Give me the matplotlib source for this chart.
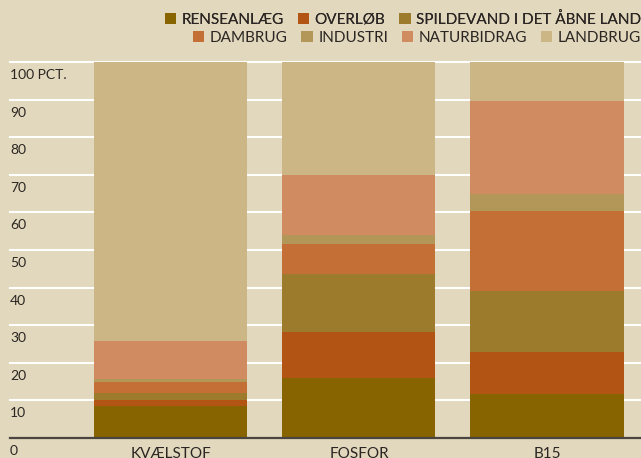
import matplotlib
matplotlib.use("Agg")
import matplotlib.pyplot as plt
import matplotlib.transforms as mtransforms

categories = ["KVÆLSTOF", "FOSFOR", "B15"]
series_names = ["RENSEANLÆG", "OVERLØB", "SPILDEVAND I DET ÅBNE LAND",
                "DAMBRUG", "INDUSTRI", "NATURBIDRAG", "LANDBRUG"]
renseanlaeg = [8.6, 16.0, 11.7]
overloeb = [1.5, 12.2, 11.2]
spildevand = [1.8, 15.4, 16.2]
dambrug = [3.0, 8.0, 21.3]
industri = [0.7, 2.3, 4.5]
naturbidrag = [10.2, 16.0, 24.7]
landbrug = [74.2, 30.1, 10.4]
ytick_values = [0, 10, 20, 30, 40, 50, 60, 70, 80, 90, 100]
ytick_labels = ["0", "10", "20", "30", "40", "50", "60", "70", "80", "90", "100 PCT."]

series = [renseanlaeg, overloeb, spildevand, dambrug, industri, naturbidrag, landbrug]
colors = ["#876400", "#B25413", "#9C7C2C", "#C46F36", "#B39758", "#D08B60", "#CDB686"]

BG = "#E2D8BD"
TXT = "#2B2623"
plt.rcParams['font.family'] = ['Lato', 'DejaVu Sans']

W, H = 641, 458
fig = plt.figure(figsize=(W / 100, H / 100), dpi=100, facecolor=BG)
ax = fig.add_axes([10 / W, (H - 438) / H, 1 - 10 / W, (438 - 62) / H], facecolor=BG)
ax.set_ylim(0, 100)
ax.set_xlim(-0.856, 2.5)

x = list(range(len(categories)))
bottom = [0] * len(categories)
handles = []
for name, vals, c in zip(series_names, series, colors):
    b = ax.bar(x, vals, bottom=bottom, width=0.814, color=c, label=name, zorder=2, linewidth=0)
    handles.append(b)
    bottom = [bb + v for bb, v in zip(bottom, vals)]

for v in ytick_values[1:]:
    ax.axhline(v, color="white", lw=1.5, zorder=1, clip_on=False)

for s in ["top", "right", "left"]:
    ax.spines[s].set_visible(False)
ax.spines["bottom"].set_color("#4a4540")
ax.spines["bottom"].set_linewidth(1.6)
ax.spines["bottom"].set_zorder(3)

ax.set_yticks([])
ax.set_xticks(x)
ax.set_xticklabels(categories, fontsize=11, color=TXT)
ax.tick_params(axis="x", length=0, pad=6.5)

trans = mtransforms.blended_transform_factory(fig.transFigure, ax.transData)
for v, lab in zip(ytick_values, ytick_labels):
    t = mtransforms.offset_copy(trans, fig=fig, x=0, y=-13, units="dots")
    ax.text(10 / W, v, lab, transform=t, fontsize=10, color=TXT,
            ha="left", va="center", clip_on=False)

leg_kw = dict(frameon=False, fontsize=11, handlelength=0.75, handleheight=0.75,
              handletextpad=0.35, columnspacing=0.9, borderpad=0, borderaxespad=0,
              labelcolor=TXT)
leg1 = fig.legend(handles[:3], series_names[:3], ncol=3, loc="upper right",
                  bbox_to_anchor=(1.0, 1 - 12 / H), **leg_kw)
fig.add_artist(leg1)
leg2 = fig.legend(handles[3:], series_names[3:], ncol=4, loc="upper right",
                  bbox_to_anchor=(1.0, 1 - 31 / H), **leg_kw)

fig.savefig("out.png", dpi=100, facecolor=BG)
